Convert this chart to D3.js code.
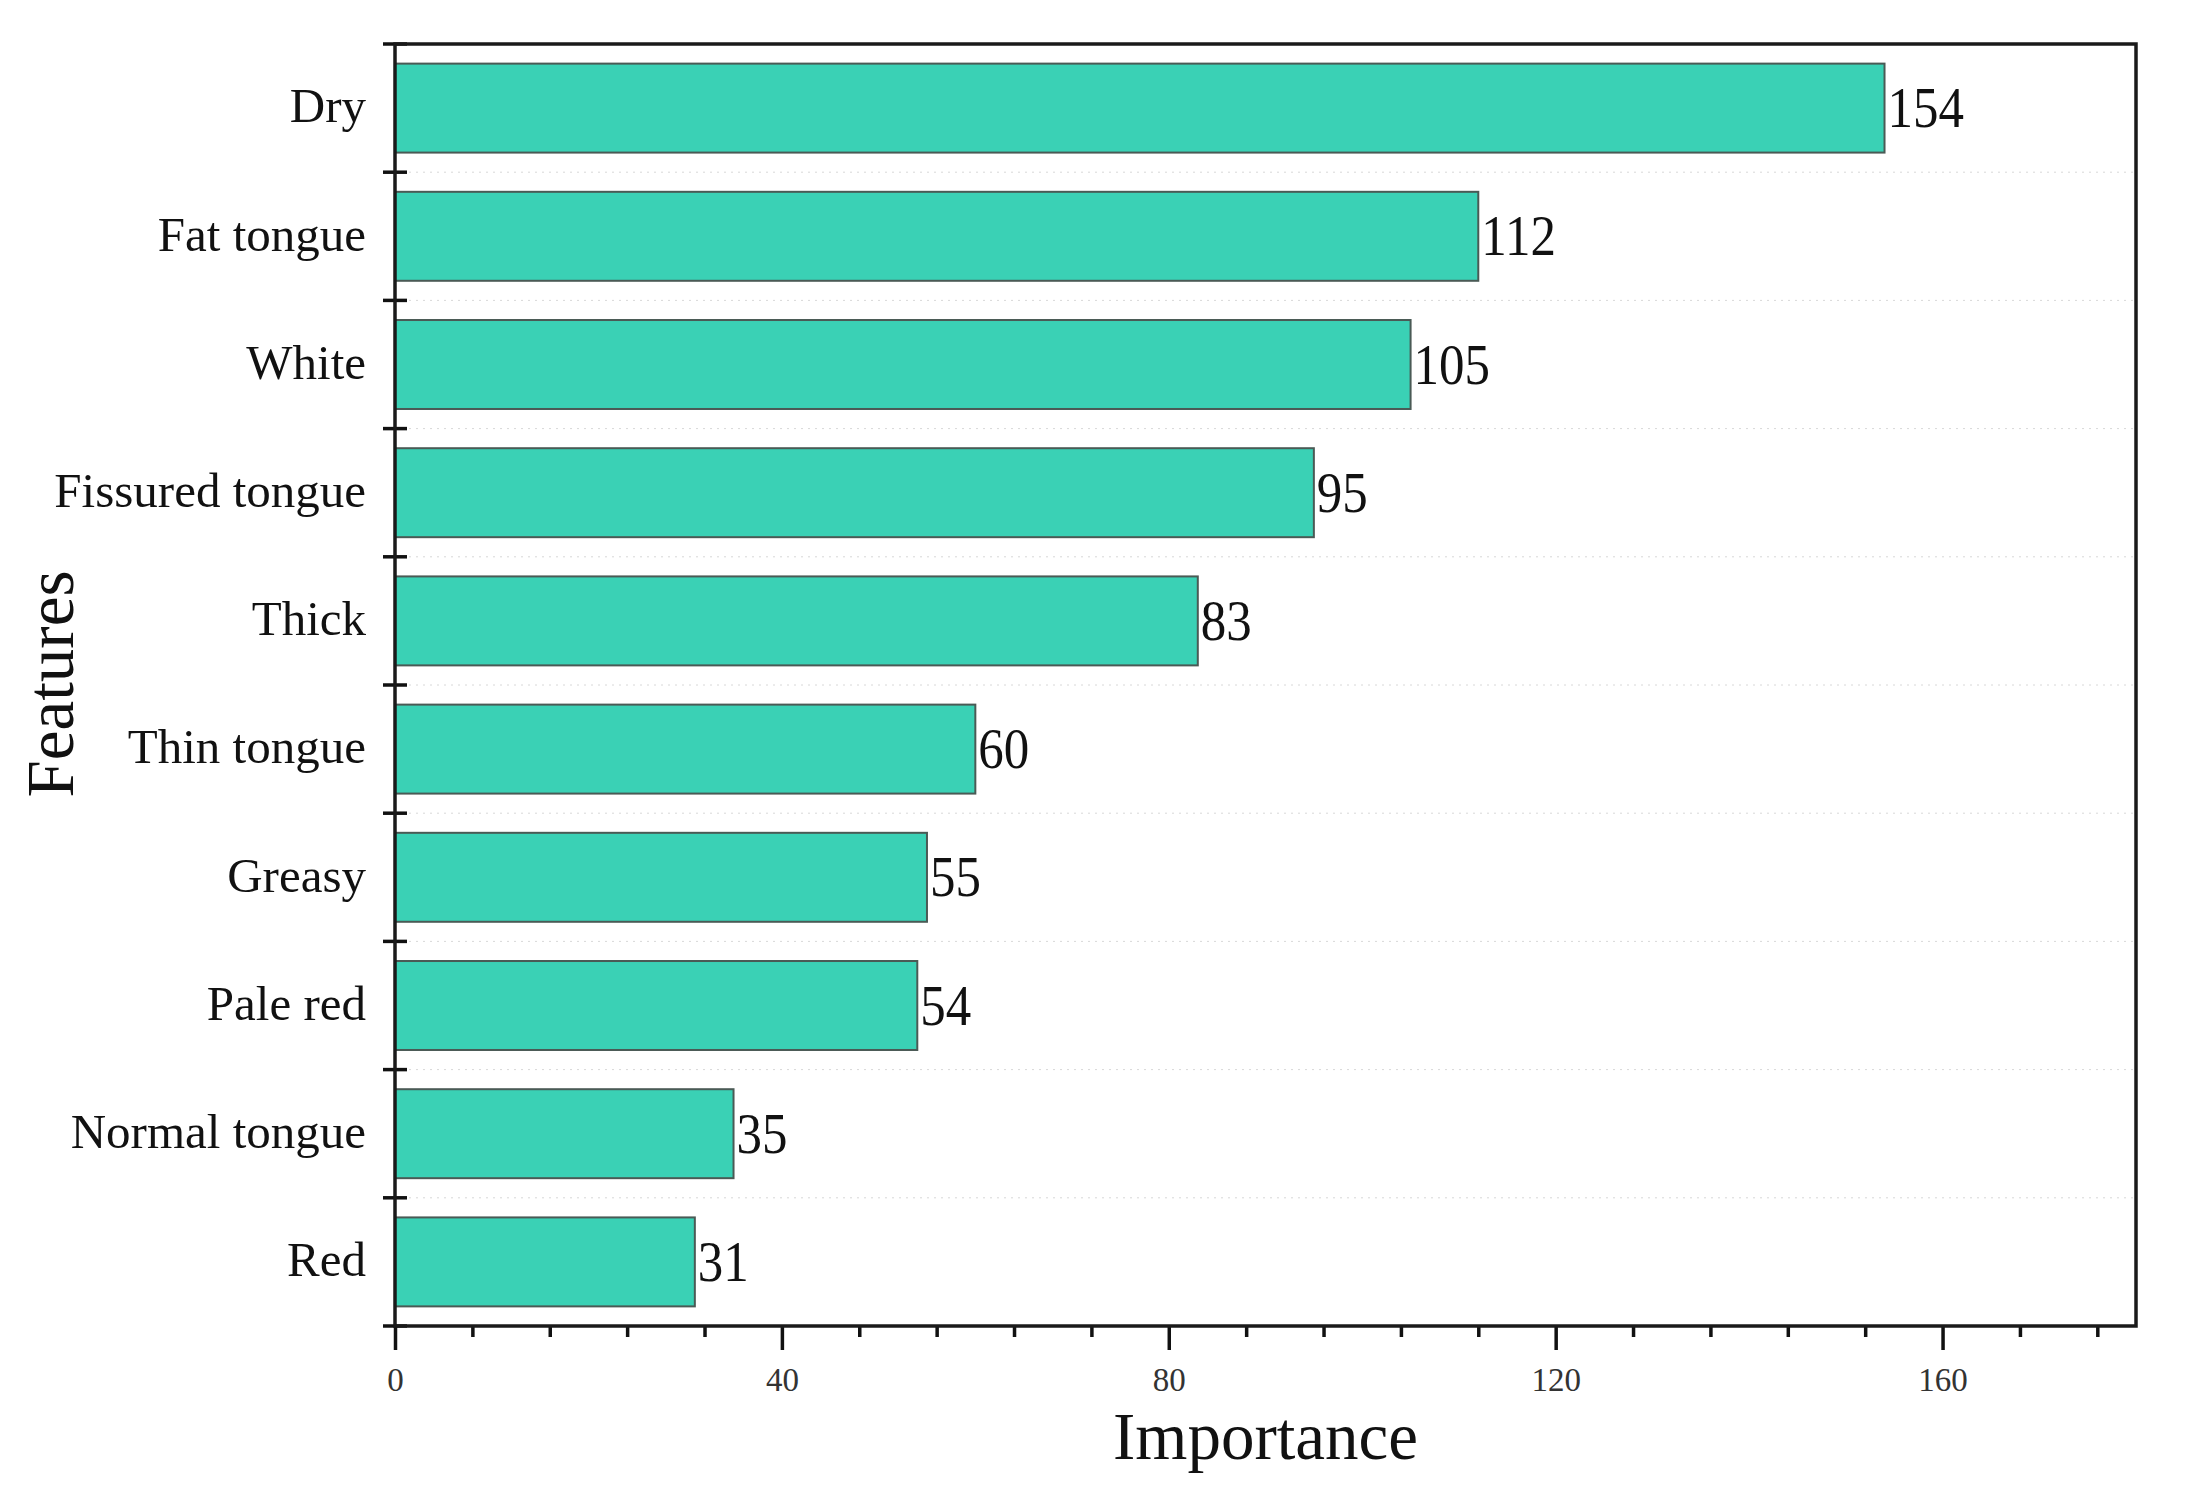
<!DOCTYPE html>
<html>
<head>
<meta charset="utf-8">
<script src="https://cdn.jsdelivr.net/npm/d3@7"></script>
<style>
  html, body { margin: 0; padding: 0; background: #fff; }
  svg { display: block; font-family: "Liberation Serif", "Times New Roman", serif; }
</style>
</head>
<body>
<svg id="chart" width="2192" height="1512"></svg>
<script>
const categories = ["Dry", "Fat tongue", "White", "Fissured tongue", "Thick", "Thin tongue", "Greasy", "Pale red", "Normal tongue", "Red"];
const values = [154, 112, 105, 95, 83, 60, 55, 54, 35, 31];
const majorTicks = [0, 40, 80, 120, 160];
const minorTicks = [8, 16, 24, 32, 48, 56, 64, 72, 88, 96, 104, 112, 128, 136, 144, 152, 168, 176];
const xTitle = "Importance";
const yTitle = "Features";

(function () {
const svg = d3.select("#chart");
const pLeft = 395, pRight = 2136, pTop = 44, pBottom = 1326;

const x = d3.scaleLinear().domain([0, 180]).range([pLeft, pRight]);
const y = d3.scaleBand().domain(categories).range([pTop, pBottom]).paddingInner(0.306).paddingOuter(0.153);

const data = categories.map((c, i) => ({ cat: c, val: values[i] }));
const boundaries = d3.range(categories.length + 1).map(i => pTop + i * y.step());

// faint dotted grid lines at band boundaries
svg.append("g").selectAll("line").data(boundaries.slice(1, -1)).join("line")
  .attr("x1", pLeft).attr("x2", pRight)
  .attr("y1", d => d).attr("y2", d => d)
  .attr("stroke", "#d8d8d8").attr("stroke-width", 1).attr("stroke-dasharray", "2,5");

// bars
svg.append("g").selectAll("rect").data(data).join("rect")
  .attr("x", x(0))
  .attr("y", d => y(d.cat))
  .attr("width", d => x(d.val) - x(0))
  .attr("height", y.bandwidth())
  .attr("fill", "#3ad1b5")
  .attr("stroke", "#4a5a55")
  .attr("stroke-width", 2);

// value labels
svg.append("g").selectAll("text").data(data).join("text")
  .attr("transform", d => `translate(${x(d.val) + 3},${y(d.cat) + y.bandwidth() / 2 + 19}) scale(1,1.12)`)
  .attr("font-size", 51)
  .attr("fill", "#111")
  .text(d => d.val);

// category labels via axis
const yAxis = svg.append("g").attr("transform", `translate(${pLeft},0)`)
  .call(d3.axisLeft(y).tickSize(0).tickPadding(29));
yAxis.select(".domain").remove();
yAxis.selectAll("text").attr("font-size", 49).attr("font-family", "Liberation Serif").attr("fill", "#111").attr("dy", "0.29em");

// x axis major
const xMajor = svg.append("g").attr("transform", `translate(0,${pBottom})`)
  .call(d3.axisBottom(x).tickValues(majorTicks).tickSize(24).tickPadding(18).tickFormat(d3.format("d")));
xMajor.select(".domain").remove();
xMajor.selectAll("line").attr("stroke", "#111").attr("stroke-width", 3.5);
xMajor.selectAll("text").attr("font-size", 33).attr("font-family", "Liberation Serif").attr("fill", "#333");

// x axis minor
const xMinor = svg.append("g").attr("transform", `translate(0,${pBottom})`)
  .call(d3.axisBottom(x).tickValues(minorTicks).tickSize(11).tickFormat(""));
xMinor.select(".domain").remove();
xMinor.selectAll("line").attr("stroke", "#111").attr("stroke-width", 3.5);

// y boundary ticks (crossing)
svg.append("g").selectAll("line").data(boundaries).join("line")
  .attr("x1", pLeft - 12).attr("x2", pLeft + 12)
  .attr("y1", d => d).attr("y2", d => d)
  .attr("stroke", "#111").attr("stroke-width", 3.5);

// frame
svg.append("rect")
  .attr("x", pLeft).attr("y", pTop)
  .attr("width", pRight - pLeft).attr("height", pBottom - pTop)
  .attr("fill", "none").attr("stroke", "#1a1a1a").attr("stroke-width", 3.5);

// titles
svg.append("text")
  .attr("x", (pLeft + pRight) / 2).attr("y", 1459)
  .attr("text-anchor", "middle").attr("font-size", 67).attr("fill", "#111")
  .text(xTitle);

svg.append("text")
  .attr("transform", "translate(73,684) rotate(-90)")
  .attr("text-anchor", "middle").attr("font-size", 67).attr("fill", "#111")
  .text(yTitle);
})();
</script>
</body>
</html>
